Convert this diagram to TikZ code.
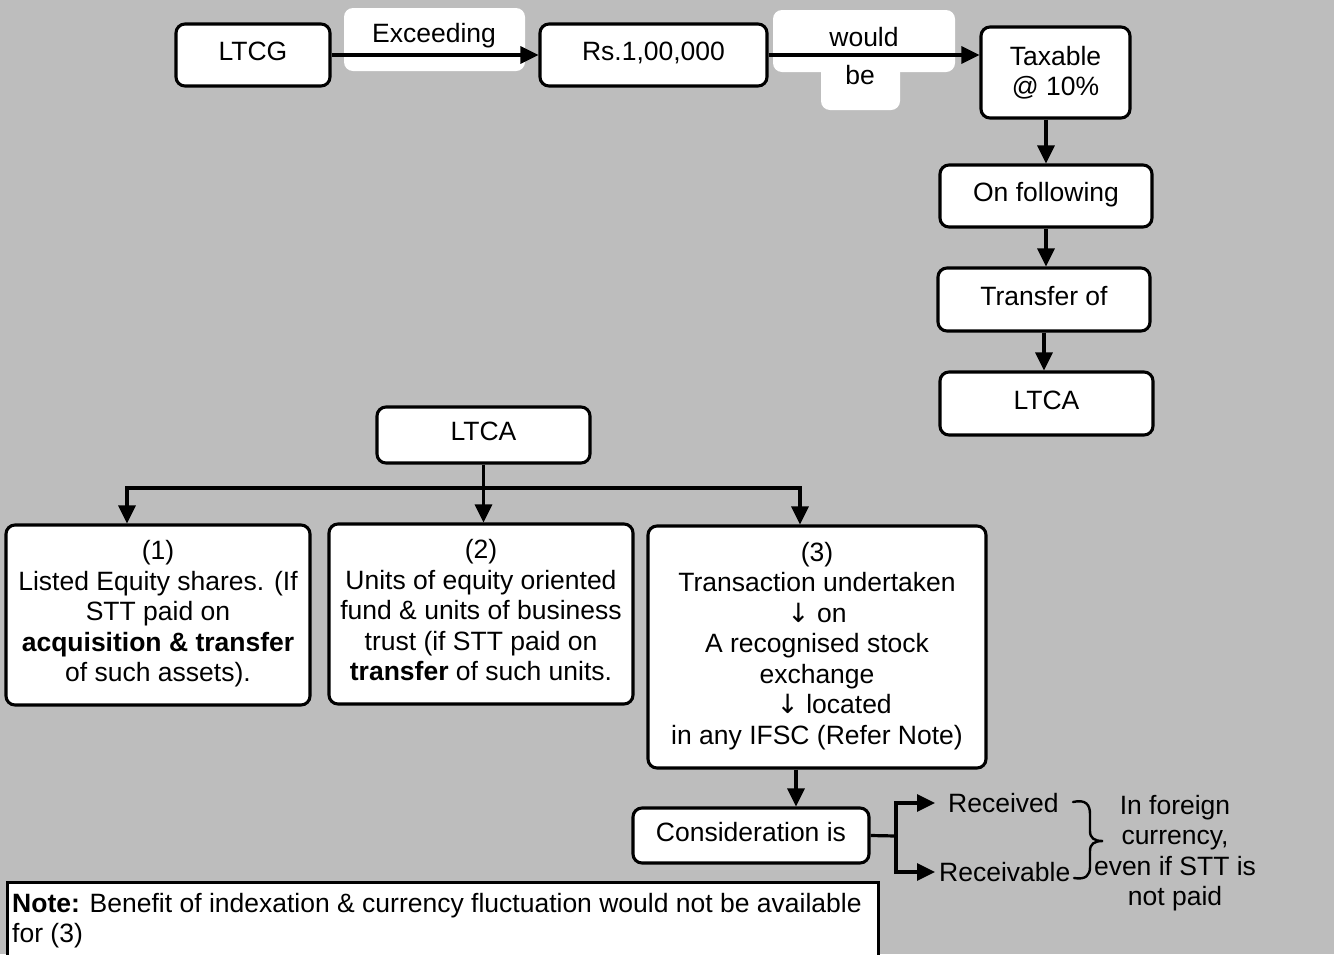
\documentclass[tikz,border=0pt]{standalone}
\usepackage{fontspec}
\setmainfont{Liberation Sans}
\newfontfamily\arrowfont{DejaVu Sans}
\usetikzlibrary{arrows.meta}
\definecolor{halftone}{gray}{0.74}
\newcommand\dn{{\arrowfont ↓}}
\newcommand\dpad{\rule[-8pt]{0pt}{8pt}}
\begin{document}
\begin{tikzpicture}[x=1pt,y=-1pt,
  txt/.style={font=\fontsize{26.5}{30.5}\selectfont, inner sep=0pt},
  box/.style={txt, draw, line width=3.1pt, fill=white, rounded corners=9pt, align=center},
  one/.style={text height=19pt, text depth=8pt},
  arr/.style={line width=3.2pt, -{Triangle[length=18pt,width=17pt]}},
  link/.style={line width=3.2pt},
  lab/.style={txt, align=center},
  tag/.style={fill=white, rounded corners=9pt, inner sep=0pt}
]
\useasboundingbox (0,0) rectangle (1334,954);
\fill[halftone] (0,0) rectangle (1334,954);

% white label patches behind the top arrows
\node[tag, minimum width=181, minimum height=63] (exbg) at (434.5,39.5) {};
\node[tag, minimum width=182, minimum height=62] (wbg1) at (864,41) {};
\node[tag, minimum width=79, minimum height=50] (wbg2) at (860.5,85) {};

% top chain
\node[box, one, minimum width=154, minimum height=62] (ltcg) at (253,55) {LTCG};
\node[box, one, minimum width=227, minimum height=62] (rs) at (653.5,55) {Rs.1,00,000};
\node[box, minimum width=149, minimum height=91] (tax) at (1055.5,72.5) {Taxable\\@ 10\%};
\node[box, one, minimum width=212, minimum height=62] (on) at (1046,196) {On following};
\node[box, one, minimum width=212, minimum height=63] (tr) at (1044,299.5) {Transfer of};
\node[box, one, minimum width=213, minimum height=63] (ltca) at (1046.5,403.5) {LTCA};

\draw[arr] (ltcg) -- (rs);
\draw[arr] (rs.east) -- (rs.east -| tax.west);
\node[lab] (ex) at (434,36) {Exceeding};
\node[lab] (wo) at (864,37) {would};
\node[lab] (be) at (860,75) {be};
\draw[arr] (tax.south -| on.north) -- (on.north);
\draw[arr] (on.south) -- (on.south |- tr.north);
\draw[arr] (tr.south) -- (tr.south |- ltca.north);

% LTCA tree
\node[box, one, minimum width=213, minimum height=56] (lt) at (483.5,435) {LTCA};
\node[box, minimum width=304, minimum height=180] (b1) at (158,615)
  {(1)\\Listed Equity shares. (If\\STT paid on\\\textbf{acquisition \& transfer}\\of such assets).\dpad};
\node[box, minimum width=304, minimum height=180] (b2) at (481,614)
  {(2)\\Units of equity oriented\\fund \& units of business\\trust (if STT paid on\\\textbf{transfer} of such units.\dpad};
\node[box, minimum width=338, minimum height=242] (b3) at (817,647)
  {(3)\\Transaction undertaken\\\dn\ on\\A recognised stock\\exchange\\\hspace*{1.3em}\dn\ located\\in any IFSC (Refer Note)\dpad};

\coordinate (bar) at (482,488);
\draw[link] (lt.south) -- (lt.south |- bar);
\draw[link, line cap=rect] ([xshift=-31pt]b1.north |- bar) -- ([xshift=-17pt]b3.north |- bar);
\draw[arr] ([xshift=-31pt]b1.north |- bar) -- ([xshift=-31pt]b1.north);
\draw[arr] (lt.south |- bar) -- (lt.south |- b2.north);
\draw[arr] ([xshift=-17pt]b3.north |- bar) -- ([xshift=-17pt]b3.north);

% consideration
\node[box, one, minimum width=236, minimum height=55] (cons) at (751,835.5) {Consideration is};
\draw[arr] ([xshift=-21pt]b3.south) -- ([xshift=-21pt]b3.south |- cons.north);

\coordinate (fork) at (896,836);
\node[lab, inner xsep=13pt, anchor=west] (rcv) at (935,803) {Received};
\node[lab, inner xsep=4pt, anchor=west] (rcvb) at (935,872) {Receivable};
\draw[link] (cons.east) -- (fork);
\draw[arr] (fork) |- (rcv.west);
\draw[arr] (fork) |- (rcvb.west);

% curly brace grouping the two cases
\draw[line width=2.4pt, line cap=round]
  (1073,802) .. controls (1086,799) and (1090,805) .. (1090,814) -- (1090,831)
  .. controls (1090,838) and (1094,841) .. (1103,841)
  .. controls (1094,841) and (1090,844) .. (1090,851) -- (1090,867)
  .. controls (1090,875) and (1086,880) .. (1074,878);
\node[lab] (fc) at (1175,853) {In foreign\\currency,\\even if STT is\\not paid};

% note
\node[draw, line width=3.1pt, fill=white, minimum width=871, minimum height=110, anchor=north west, inner sep=0pt] (note) at (6,881) {};
\node[lab, align=left, anchor=north west] (notetxt) at ([shift={(6pt,-12pt)}]note.north west)
  {\textbf{Note:} Benefit of indexation \& currency fluctuation would not be available\\for (3)};
\end{tikzpicture}
\end{document}
